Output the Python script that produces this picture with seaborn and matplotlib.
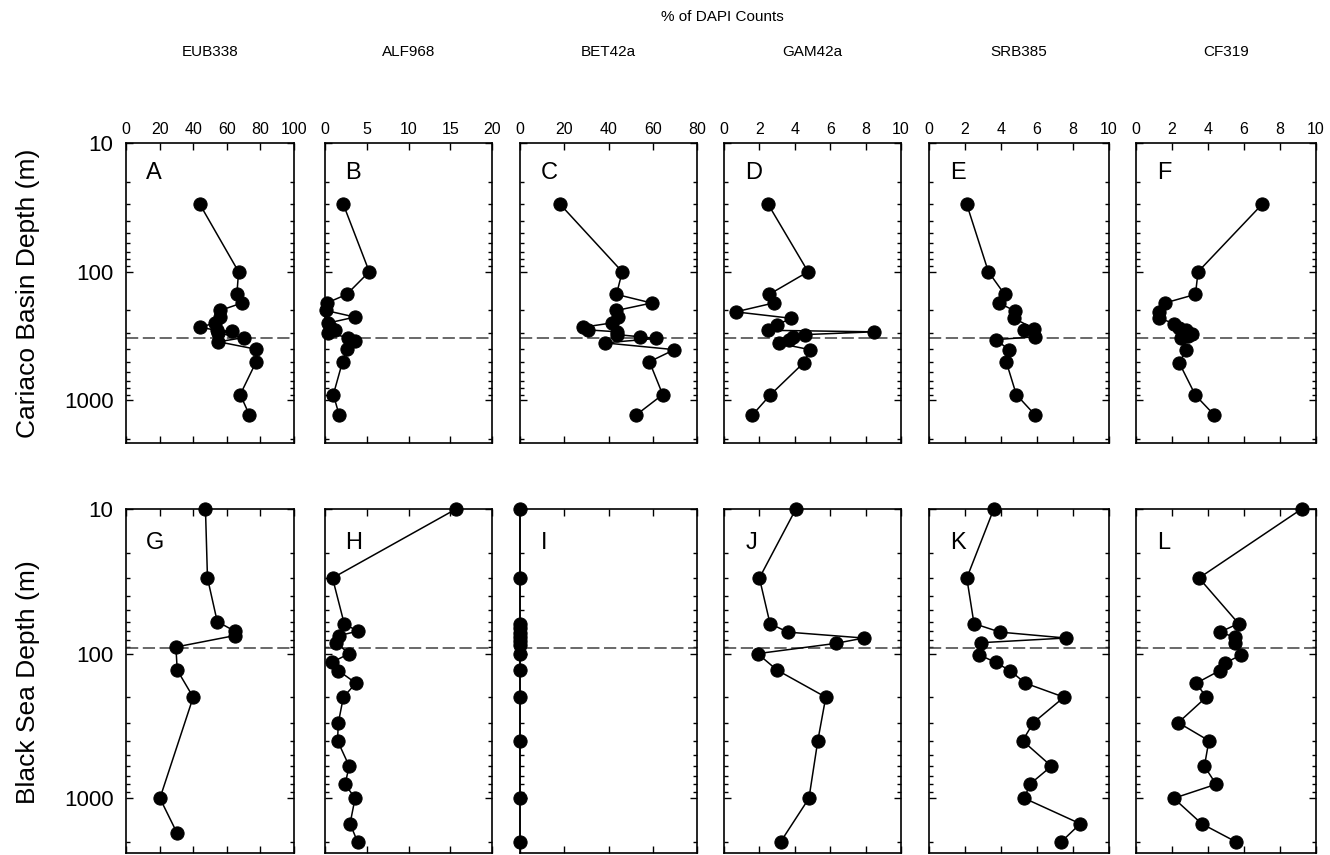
import numpy as np
import pandas as pd
import matplotlib
matplotlib.use("Agg")
import matplotlib.pyplot as plt
import seaborn as sns
from matplotlib.ticker import FixedLocator, LogLocator, NullFormatter

# probes (columns) and their x ranges
probes = ["EUB338", "ALF968", "BET42a", "GAM42a", "SRB385", "CF319"]
x_max = [100, 20, 80, 10, 10, 10]
x_step = [20, 5, 20, 2, 2, 2]
top_letters = ["A", "B", "C", "D", "E", "F"]
bottom_letters = ["G", "H", "I", "J", "K", "L"]
top_ylabel = "Cariaco Basin Depth (m)"
bottom_ylabel = "Black Sea Depth (m)"
cariaco_interface = 325
blacksea_interface = 92

# Cariaco Basin profiles (depth m, % of DAPI counts)
A_depth = [30, 100, 150, 175, 200, 225, 250, 270, 285, 290, 300, 325, 350, 400, 500, 900, 1300]
A_val = [44, 67, 66, 69, 56, 56, 53, 44, 54, 63, 55, 70, 55, 77.5, 77.5, 68, 73.5]
B_depth = [30, 100, 150, 175, 200, 225, 250, 270, 285, 300, 325, 345, 400, 500, 900, 1300]
B_val = [2.2, 5.3, 2.6, 0.2, 0.1, 3.6, 0.4, 0.6, 1.2, 0.4, 2.8, 3.6, 2.6, 2.1, 1.0, 1.7]
C_depth = [30, 100, 150, 175, 200, 225, 250, 270, 283, 293, 308, 320, 330, 357, 403, 500, 900, 1300]
C_val = [18.2, 46.2, 43.6, 59.5, 43.6, 44.1, 41.4, 28.5, 30.8, 44, 44, 54.2, 61.5, 38.3, 69.8, 58.5, 64.5, 52.4]
D_depth = [30, 100, 150, 175, 205, 230, 258, 285, 293, 308, 320, 337, 360, 403, 510, 910, 1300]
D_val = [2.5, 4.75, 2.55, 2.8, 0.66, 3.8, 3.0, 2.5, 8.45, 4.55, 3.9, 3.7, 3.1, 4.85, 4.5, 2.6, 1.6]
E_depth = [30, 100, 150, 175, 203, 229, 278, 285, 320, 337, 403, 505, 900, 1300]
E_val = [2.1, 3.3, 4.2, 3.9, 4.8, 4.7, 5.85, 5.25, 5.9, 3.7, 4.45, 4.3, 4.85, 5.9]
F_depth = [30, 100, 150, 175, 205, 229, 253, 274, 283, 295, 305, 315, 330, 403, 510, 910, 1300]
F_val = [7.0, 3.45, 3.3, 1.6, 1.3, 1.3, 2.1, 2.4, 2.8, 2.6, 3.1, 2.9, 2.5, 2.8, 2.4, 3.3, 4.35]

# Black Sea profiles
G_depth = [10, 30, 60, 70, 75, 90, 130, 200, 1000, 1750]
G_val = [47.3, 48.5, 54.3, 64.8, 64.8, 29.7, 30.5, 40, 20.2, 30.5]
H_depth = [10, 30, 62, 70, 75, 84, 100, 115, 131, 160, 200, 300, 400, 600, 800, 1000, 1500, 2000]
H_val = [15.7, 0.9, 2.3, 3.9, 1.7, 1.3, 2.9, 0.8, 1.6, 3.7, 2.2, 1.6, 1.5, 2.9, 2.4, 3.6, 3.0, 3.9]
I_depth = [10, 30, 62, 67, 72, 77, 82, 87, 100, 130, 200, 400, 1000, 2000]
I_val = [0, 0, 0, 0, 0, 0, 0, 0, 0, 0, 0, 0, 0, 0]
J_depth = [10, 30, 62, 71, 78, 85, 100, 130, 200, 400, 1000, 2000]
J_val = [4.06, 2.0, 2.6, 3.6, 7.9, 6.3, 1.9, 3.0, 5.75, 5.3, 4.8, 3.2]
K_depth = [10, 30, 62, 71, 78, 84, 102, 115, 131, 160, 200, 300, 400, 600, 800, 1000, 1500, 2000]
K_val = [3.6, 2.1, 2.5, 3.95, 7.6, 2.9, 2.8, 3.7, 4.5, 5.35, 7.5, 5.8, 5.2, 6.8, 5.6, 5.3, 8.4, 7.35]
L_depth = [10, 30, 62, 71, 77, 85, 102, 116, 131, 160, 200, 300, 400, 600, 800, 1000, 1500, 2000]
L_val = [9.2, 3.5, 5.7, 4.65, 5.5, 5.5, 5.85, 4.95, 4.65, 3.35, 3.9, 2.35, 4.05, 3.8, 4.45, 2.1, 3.65, 5.55]

profiles = {
    "A": (A_depth, A_val), "B": (B_depth, B_val), "C": (C_depth, C_val),
    "D": (D_depth, D_val), "E": (E_depth, E_val), "F": (F_depth, F_val),
    "G": (G_depth, G_val), "H": (H_depth, H_val), "I": (I_depth, I_val),
    "J": (J_depth, J_val), "K": (K_depth, K_val), "L": (L_depth, L_val),
}
df = pd.concat(
    [pd.DataFrame({"panel": k, "depth": d, "pct": v}) for k, (d, v) in profiles.items()],
    ignore_index=True,
)

sns.set_theme(style="ticks")
plt.rcParams["font.family"] = ["Liberation Sans", "DejaVu Sans"]
plt.rcParams["text.color"] = "black"
plt.rcParams["xtick.color"] = "black"
plt.rcParams["ytick.color"] = "black"

W, H = 1330, 855
fig = plt.figure(figsize=(W / 100, H / 100), dpi=100)

lefts = [126, 325, 520, 724, 929, 1136]
rights = [294, 492, 697, 901, 1109, 1316]
rows = [(143, 443, top_letters, cariaco_interface, 2140),
        (509, 853, bottom_letters, blacksea_interface, 2390)]

for r, (y0, y1, letters, interface, ybot) in enumerate(rows):
    for c in range(6):
        ax = fig.add_axes([lefts[c] / W, 1 - y1 / H, (rights[c] - lefts[c]) / W, (y1 - y0) / H])
        sub = df[df["panel"] == letters[c]]
        ax.set_yscale("log")
        sns.lineplot(
            data=sub, x="pct", y="depth", sort=False, estimator=None,
            marker="o", markersize=9.5, color="black", markeredgecolor="black",
            linewidth=1.1, clip_on=False, ax=ax, zorder=3,
        )
        ax.axhline(interface, color="0.25", lw=1.1, ls=(0, (8, 3)), zorder=1)
        ax.set_xlim(0, x_max[c])
        ax.set_ylim(ybot, 10)
        ax.set_xticks(np.arange(0, x_max[c] + 1, x_step[c]))
        ax.yaxis.set_major_locator(FixedLocator([10, 100, 1000]))
        ax.yaxis.set_minor_locator(LogLocator(base=10, subs=np.arange(2, 10)))
        ax.yaxis.set_minor_formatter(NullFormatter())
        ax.set_xlabel("")
        ax.set_ylabel("")
        ax.tick_params(axis="both", which="both", direction="in", top=True,
                       bottom=True, left=True, right=True, width=1,
                       colors="black", labelcolor="black")
        ax.tick_params(axis="both", which="major", length=5)
        ax.tick_params(axis="y", which="minor", length=3)
        ax.tick_params(axis="x", labeltop=(r == 0), labelbottom=False,
                       labelsize=11.5, pad=4)
        if c == 0:
            ax.set_yticklabels(["10", "100", "1000"])
            ax.tick_params(axis="y", labelsize=16, pad=9)
        else:
            ax.tick_params(axis="y", labelleft=False)
        for s in ax.spines.values():
            s.set_linewidth(1.2)
            s.set_color("black")
        ax.text(0.12, 0.9, letters[c], transform=ax.transAxes, fontsize=17,
                ha="left", va="center", color="black")
        if r == 0:
            fig.text((lefts[c] + rights[c]) / 2 / W, 1 - 52 / H, probes[c],
                     ha="center", va="center", fontsize=11, color="black")

fig.text(722 / W, 1 - 17 / H, "% of DAPI Counts", ha="center", va="center",
         fontsize=11, color="black")
fig.text(28 / W, 1 - 293 / H, top_ylabel, rotation=90, ha="center", va="center",
         fontsize=19, color="black")
fig.text(28 / W, 1 - 682 / H, bottom_ylabel, rotation=90, ha="center", va="center",
         fontsize=19, color="black")

fig.savefig("out.png", dpi=100)
plt.close(fig)
